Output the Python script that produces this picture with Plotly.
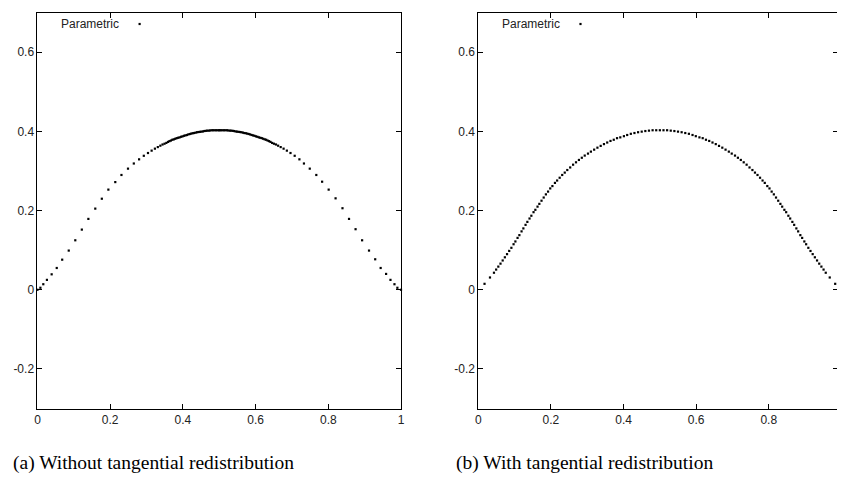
import plotly.graph_objects as go

# ---------------- data ----------------
# (a) Without tangential redistribution
a_x = [0.000, 0.008, 0.016, 0.026, 0.039, 0.053, 0.068, 0.086, 0.104, 0.122,
       0.140, 0.159, 0.177, 0.195, 0.214, 0.231, 0.249, 0.265, 0.2795, 0.2925,
       0.304, 0.314, 0.323, 0.331, 0.338, 0.344, 0.3495, 0.3545, 0.359, 0.363,
       0.367, 0.371, 0.375, 0.379, 0.383, 0.387, 0.391, 0.395, 0.399, 0.403,
       0.407, 0.411, 0.415, 0.419, 0.423, 0.427, 0.431, 0.435, 0.439, 0.443,
       0.447, 0.451, 0.455, 0.459, 0.463, 0.467, 0.471, 0.475, 0.479, 0.483,
       0.487, 0.491, 0.495, 0.499,
       0.501, 0.505, 0.509, 0.513, 0.517, 0.521, 0.525, 0.529, 0.533, 0.537,
       0.541, 0.545, 0.549, 0.553, 0.557, 0.561, 0.565, 0.569, 0.573, 0.577,
       0.581, 0.585, 0.589, 0.593, 0.597, 0.601, 0.605, 0.609, 0.613, 0.617,
       0.621, 0.625, 0.629, 0.633, 0.637, 0.641, 0.6455, 0.6505, 0.656, 0.662,
       0.669, 0.677, 0.686, 0.696, 0.7075, 0.7205, 0.733, 0.749, 0.767, 0.783,
       0.801, 0.820, 0.839, 0.857, 0.875, 0.893, 0.912, 0.929, 0.944, 0.959,
       0.971, 0.982, 0.990, 1.000]
a_y = [0.000, 0.005, 0.014, 0.025, 0.039, 0.055, 0.076, 0.099, 0.125, 0.152,
       0.179, 0.205, 0.230, 0.253, 0.272, 0.290, 0.306, 0.319, 0.3295, 0.3385,
       0.3455, 0.3515, 0.3565, 0.3605, 0.364, 0.367, 0.369, 0.371, 0.3735, 0.3755,
       0.377, 0.379, 0.380, 0.3815, 0.383, 0.384, 0.385, 0.3865, 0.3875, 0.389,
       0.390, 0.391, 0.3925, 0.3935, 0.3945, 0.3955, 0.396, 0.397, 0.398, 0.3985,
       0.399, 0.3995, 0.400, 0.401, 0.4015, 0.402, 0.402, 0.4025, 0.403, 0.403,
       0.403, 0.403, 0.403, 0.403,
       0.403, 0.403, 0.403, 0.403, 0.403, 0.403, 0.4025, 0.402, 0.402, 0.4015,
       0.401, 0.400, 0.3995, 0.399, 0.3985, 0.398, 0.397, 0.396, 0.3955, 0.3945,
       0.3935, 0.3925, 0.391, 0.390, 0.389, 0.3875, 0.3865, 0.385, 0.384, 0.383,
       0.3815, 0.380, 0.379, 0.377, 0.3755, 0.3735, 0.371, 0.369, 0.367, 0.364,
       0.3605, 0.3565, 0.3515, 0.3455, 0.3385, 0.3295, 0.319, 0.306, 0.290, 0.273,
       0.253, 0.231, 0.206, 0.179, 0.153, 0.125, 0.099, 0.077, 0.055, 0.040,
       0.025, 0.014, 0.005, 0.000]

# (b) With tangential redistribution
b_x = [0.017, 0.032, 0.043, 0.049, 0.055, 0.061, 0.067, 0.073, 0.079, 0.085,
       0.091, 0.097, 0.102, 0.108, 0.113, 0.119, 0.124, 0.130, 0.135, 0.141,
       0.146, 0.152, 0.157, 0.163, 0.168, 0.174, 0.180, 0.186, 0.192, 0.198,
       0.204, 0.211, 0.217, 0.224, 0.231, 0.238, 0.245, 0.253, 0.261, 0.269,
       0.277, 0.285, 0.293, 0.302, 0.310, 0.319, 0.328, 0.337, 0.346, 0.355,
       0.364, 0.373, 0.382, 0.391, 0.401, 0.410, 0.420, 0.430, 0.440, 0.450,
       0.460, 0.470, 0.480, 0.490, 0.500,
       0.510, 0.520, 0.530, 0.540, 0.550, 0.560, 0.570, 0.580, 0.590, 0.599,
       0.609, 0.618, 0.627, 0.636, 0.645, 0.654, 0.663, 0.672, 0.681, 0.690,
       0.698, 0.707, 0.715, 0.723, 0.731, 0.739, 0.747, 0.755, 0.762, 0.769,
       0.776, 0.783, 0.789, 0.796, 0.802, 0.808, 0.814, 0.820, 0.826, 0.832,
       0.837, 0.843, 0.848, 0.854, 0.859, 0.865, 0.870, 0.876, 0.881, 0.887,
       0.892, 0.898, 0.903, 0.909, 0.915, 0.921, 0.927, 0.933, 0.939, 0.945,
       0.951, 0.957, 0.968, 0.983]
b_y = [0.015, 0.031, 0.043, 0.051, 0.0585, 0.066, 0.074, 0.082, 0.090, 0.098,
       0.106, 0.115, 0.122, 0.131, 0.138, 0.1475, 0.155, 0.164, 0.1715, 0.180,
       0.187, 0.196, 0.202, 0.210, 0.217, 0.225, 0.233, 0.241, 0.248, 0.256,
       0.262, 0.270, 0.276, 0.283, 0.290, 0.296, 0.3025, 0.309, 0.316, 0.322,
       0.328, 0.3335, 0.339, 0.344, 0.349, 0.354, 0.359, 0.3635, 0.368, 0.372,
       0.376, 0.379, 0.383, 0.385, 0.388, 0.391, 0.394, 0.396, 0.398, 0.3995,
       0.401, 0.402, 0.403, 0.403, 0.403,
       0.403, 0.403, 0.402, 0.401, 0.3995, 0.398, 0.396, 0.394, 0.391, 0.388,
       0.385, 0.383, 0.379, 0.376, 0.372, 0.368, 0.3635, 0.359, 0.354, 0.349,
       0.344, 0.339, 0.3335, 0.328, 0.322, 0.316, 0.309, 0.3025, 0.296, 0.290,
       0.283, 0.276, 0.270, 0.262, 0.256, 0.248, 0.241, 0.233, 0.225, 0.217,
       0.210, 0.202, 0.196, 0.187, 0.180, 0.1715, 0.164, 0.155, 0.1475, 0.138,
       0.131, 0.122, 0.115, 0.106, 0.098, 0.090, 0.082, 0.074, 0.066, 0.0585,
       0.051, 0.043, 0.031, 0.015]

x_tick_vals = [0, 0.2, 0.4, 0.6, 0.8, 1]
x_tick_text = ["0", "0.2", "0.4", "0.6", "0.8", "1"]
y_tick_vals = [-0.2, 0, 0.2, 0.4, 0.6]
y_tick_text = ["-0.2", "0", "0.2", "0.4", "0.6"]
legend_label = "Parametric"
captions = ["(a) Without tangential redistribution", "(b) With tangential redistribution"]

# ---------------- figure ----------------
# the page body has an 8px margin, so the figure is laid out in page pixels minus 8
OFF = 8
W, H = 845 - OFF, 494 - OFF


def px(x):
    return (x - OFF) / W


def py(y):
    return 1 - (y - OFF) / H


fig = go.Figure()

marker = dict(symbol="square", size=2.2, color="black", line=dict(width=0))
fig.add_trace(go.Scatter(x=a_x, y=a_y, mode="markers", marker=marker,
                         xaxis="x", yaxis="y", showlegend=False, cliponaxis=False))
fig.add_trace(go.Scatter(x=b_x, y=b_y, mode="markers", marker=marker,
                         xaxis="x2", yaxis="y2", showlegend=False, cliponaxis=False))

tickfont = dict(family="Liberation Sans, Arial, sans-serif", size=12, color="#222")
common = dict(showline=True, linecolor="black", linewidth=1, mirror="allticks",
              ticks="inside", ticklen=5, tickwidth=1, tickcolor="black",
              showgrid=False, zeroline=False, tickfont=tickfont)

ydom = [py(408.5), py(12.7)]
fig.update_layout(
    width=W, height=H, margin=dict(l=0, r=0, t=0, b=0),
    paper_bgcolor="white", plot_bgcolor="white", showlegend=False,
    xaxis=dict(domain=[px(34.7), px(401.3)], range=[0, 1], anchor="y",
               tickvals=x_tick_vals, ticktext=x_tick_text, **common),
    yaxis=dict(domain=ydom, range=[-0.3, 0.7], anchor="x",
               tickvals=y_tick_vals, ticktext=y_tick_text, **common),
    xaxis2=dict(domain=[px(479.3), px(841.7)], range=[0, 0.99], anchor="y2",
                tickvals=x_tick_vals, ticktext=x_tick_text, **common),
    yaxis2=dict(domain=ydom, range=[-0.3, 0.7], anchor="x2",
                tickvals=y_tick_vals, ticktext=y_tick_text, **common),
)

# legends (text then sample, gnuplot style)
for tx, dx in [(56.7, 137.7), (501.0, 582.3)]:
    fig.add_annotation(x=px(tx), y=py(24), xref="paper", yref="paper",
                       text=legend_label, showarrow=False, xanchor="left", yanchor="middle",
                       font=dict(family="Liberation Sans, Arial, sans-serif", size=12, color="#222"))
    fig.add_shape(type="rect", xref="paper", yref="paper",
                  x0=px(dx - 1.1), x1=px(dx + 1.1), y0=py(25.1), y1=py(22.9),
                  fillcolor="black", line=dict(width=0))

# captions
for cx, cap in [(152, captions[0]), (586, captions[1])]:
    fig.add_annotation(x=px(cx), y=py(463), xref="paper", yref="paper",
                       text=cap, showarrow=False, xanchor="center", yanchor="middle",
                       font=dict(family="Liberation Serif, DejaVu Serif, serif", size=19.5, color="black"))

fig.write_html("out.html")
